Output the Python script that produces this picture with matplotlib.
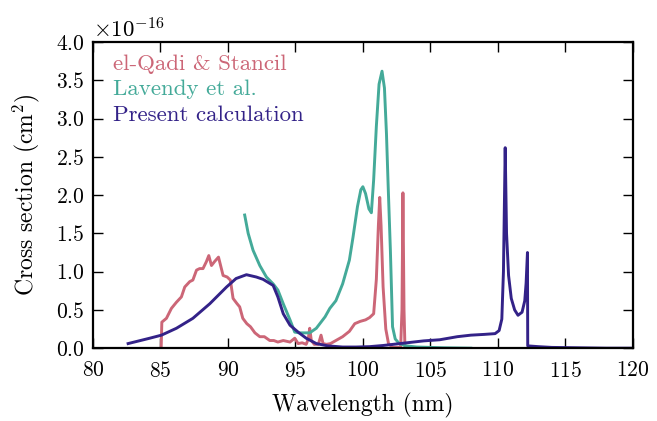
import numpy as np
import matplotlib
matplotlib.use('Agg')
import matplotlib.pyplot as plt

plt.rcParams['font.family'] = 'serif'
plt.rcParams['font.serif'] = ['cmr10']
plt.rcParams['mathtext.fontset'] = 'cm'
plt.rcParams['axes.unicode_minus'] = False
plt.rcParams['axes.formatter.use_mathtext'] = True

# el-Qadi & Stancil
x_qadi = [85.05, 85.1, 85.44, 85.81, 86.18, 86.55, 86.8, 87.17, 87.4, 87.67, 87.9, 88.15,
          88.4, 88.58, 88.78, 89.0, 89.3, 89.64, 89.94, 90.18, 90.38, 90.68, 90.87, 91.1,
          91.4, 91.67, 92.0, 92.36, 92.7, 93.1, 93.4, 93.7, 94.1, 94.6, 94.95, 95.2, 95.5,
          95.8, 95.95, 96.06, 96.18, 96.4, 96.7, 96.9, 97.05, 97.3, 97.6, 98.0, 98.5, 99.0,
          99.4, 99.8, 100.2, 100.5, 100.8, 101.0, 101.15, 101.25, 101.35, 101.5, 101.7,
          101.9, 102.2, 102.8, 102.9, 102.97, 103.05, 103.12, 103.5]
y_qadi = [0.0, 0.34, 0.39, 0.52, 0.60, 0.67, 0.80, 0.87, 0.89, 1.02, 1.04, 1.04,
          1.13, 1.21, 1.08, 1.13, 1.19, 0.95, 0.93, 0.89, 0.65, 0.58, 0.54, 0.39,
          0.32, 0.28, 0.20, 0.15, 0.15, 0.10, 0.10, 0.08, 0.10, 0.08, 0.13, 0.06, 0.07,
          0.05, 0.12, 0.26, 0.10, 0.05, 0.05, 0.17, 0.06, 0.05, 0.06, 0.10, 0.15, 0.22,
          0.32, 0.35, 0.37, 0.40, 0.45, 0.90, 1.60, 1.97, 1.60, 0.80, 0.25,
          0.06, 0.01, 0.01, 0.50, 2.03, 0.50, 0.01, 0.0]

# Lavendy et al.
x_lav = [91.24, 91.5, 91.86, 92.36, 92.85, 93.35, 93.7, 94.1, 94.6, 94.95, 95.3, 95.7,
         96.06, 96.55, 97.2, 97.55, 98.0, 98.5, 99.0, 99.27, 99.6, 99.85, 100.0, 100.2,
         100.45, 100.63, 100.8, 101.0, 101.2, 101.42, 101.6, 101.75, 101.87, 102.04, 102.2,
         102.4, 102.7, 103.2, 104.0, 106.0, 108.0]
y_lav = [1.74, 1.50, 1.28, 1.08, 0.93, 0.84, 0.76, 0.58, 0.37, 0.21, 0.20, 0.20,
         0.20, 0.26, 0.41, 0.52, 0.62, 0.84, 1.15, 1.45, 1.85, 2.07, 2.11, 2.02,
         1.82, 1.77, 2.20, 2.90, 3.45, 3.62, 3.40, 2.80, 2.15, 1.28, 0.28,
         0.12, 0.06, 0.03, 0.015, 0.005, 0.0]

# Present calculation
x_pres = [82.6, 84.2, 85.07, 86.18, 87.4, 88.65, 89.9, 90.6, 91.37, 92.1, 92.6, 93.35,
          93.7, 94.1, 94.6, 95.2, 95.8, 96.55, 97.4, 98.5, 99.5, 100.5, 101.5, 102.5,
          103.5, 104.5, 105.7, 107.0, 108.0, 109.0, 109.8, 110.1, 110.3, 110.42, 110.55,
          110.65, 110.8, 111.0, 111.25, 111.5, 111.8, 112.0, 112.1, 112.2, 112.22, 113.0,
          114.0, 116.0, 118.0, 120.0]
y_pres = [0.06, 0.13, 0.17, 0.26, 0.39, 0.58, 0.80, 0.91, 0.96, 0.93, 0.90, 0.82,
          0.67, 0.45, 0.30, 0.21, 0.13, 0.06, 0.03, 0.015, 0.015, 0.02, 0.035, 0.055,
          0.075, 0.095, 0.11, 0.15, 0.17, 0.18, 0.19, 0.23, 0.38, 1.0, 2.62,
          1.5, 0.95, 0.65, 0.50, 0.43, 0.47, 0.62, 0.85, 1.25, 0.03, 0.02,
          0.01, 0.005, 0.0, 0.0]

scale = 1e-16

fig = plt.figure(figsize=(6.57, 4.21), dpi=100)
ax = fig.add_axes([0.1416, 0.173, 0.8214, 0.727])

ax.plot(x_qadi, np.array(y_qadi) * scale, color='#CC6677', lw=2.1, label='el-Qadi & Stancil')
ax.plot(x_lav, np.array(y_lav) * scale, color='#44AA99', lw=2.1, label='Lavendy et al.')
ax.plot(x_pres, np.array(y_pres) * scale, color='#332288', lw=2.1, label='Present calculation')

ax.set_xlim(80, 120)
ax.set_ylim(0, 4.0e-16)
ax.set_xticks(np.arange(80, 121, 5))
ax.set_yticks(np.arange(0, 4.01, 0.5) * scale)
ax.ticklabel_format(axis='y', style='sci', scilimits=(0, 0), useMathText=True)

ax.tick_params(direction='in', top=True, right=True, length=7, width=1, labelsize=15.5)
ax.tick_params(axis='x', pad=9)
ax.tick_params(axis='y', pad=6)
ax.yaxis.get_offset_text().set_fontsize(16.5)
for s in ax.spines.values():
    s.set_linewidth(1.6)

ax.set_xlabel('Wavelength (nm)', fontsize=17, labelpad=9)
ax.set_ylabel('Cross section (cm$^2$)', fontsize=17, labelpad=10)

leg = ax.legend(loc='upper left', bbox_to_anchor=(0.0204, 0.990), frameon=False,
                handlelength=0, handletextpad=0, fontsize=16.5, borderaxespad=0,
                labelspacing=0.22)
for line, text in zip(leg.get_lines(), leg.get_texts()):
    text.set_color(line.get_color())
    line.set_visible(False)

fig.savefig('out.png', dpi=100)
